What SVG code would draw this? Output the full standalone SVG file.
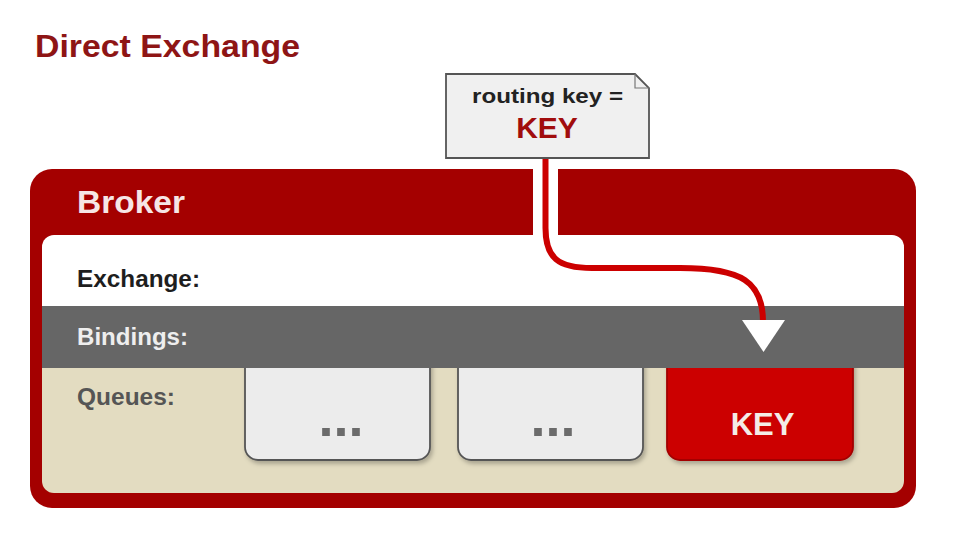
<svg xmlns="http://www.w3.org/2000/svg" width="958" height="548" viewBox="0 0 958 548">
<style>
text{font-family:"Liberation Sans",Arial,sans-serif;font-weight:bold}
.lbl{font-size:23px}
.q{fill:#ececec;stroke:#555;stroke-width:1.8}
.dots{font-size:54px;fill:#6b6b6b;text-anchor:middle}
</style>
<defs>
<filter id="sh" x="-10%" y="-10%" width="130%" height="130%"><feDropShadow dx="2" dy="3" stdDeviation="2" flood-color="#000" flood-opacity="0.25"/></filter>
</defs>
<rect width="958" height="548" fill="#fff"/>
<text x="35" y="57" font-size="32" fill="#8e1515" textLength="265" lengthAdjust="spacingAndGlyphs">Direct Exchange</text>
<g id="broker">
<rect x="30" y="169" width="886" height="339" rx="22" fill="#a40000"/>
<path d="M54,235 H892 A12,12 0 0 1 904,247 V306 H42 V247 A12,12 0 0 1 54,235 Z" fill="#fff"/>
<path d="M42,368 H904 V481 A12,12 0 0 1 892,493 H54 A12,12 0 0 1 42,481 Z" fill="#e3dcc1"/>
<text x="77" y="213" font-size="32" fill="#f6e6e6" textLength="108" lengthAdjust="spacingAndGlyphs">Broker</text>
<text class="lbl" x="77" y="287" fill="#1e1e1e" textLength="123" lengthAdjust="spacingAndGlyphs">Exchange:</text>
<text class="lbl" x="77" y="405" fill="#555" textLength="98" lengthAdjust="spacingAndGlyphs">Queues:</text>
</g>
<g id="queue1">
<rect class="q" x="245" y="340" width="185" height="120" rx="13" filter="url(#sh)"/>
<text class="dots" x="341" y="436">...</text>
</g>
<g id="queue2">
<rect class="q" x="458" y="340" width="185" height="120" rx="13" filter="url(#sh)"/>
<text class="dots" x="553" y="436">...</text>
</g>
<g id="queue3">
<rect x="667" y="340" width="186" height="120" rx="13" fill="#cc0000" stroke="#a30000" stroke-width="1.8" filter="url(#sh)"/>
<text x="762.5" y="435" font-size="31" fill="#f4ece6" text-anchor="middle">KEY</text>
</g>
<g id="bindings">
<rect x="42" y="306" width="862" height="62" fill="#666"/>
<text class="lbl" x="77" y="345" fill="#eeeeee" textLength="111" lengthAdjust="spacingAndGlyphs">Bindings:</text>
</g>
<g id="note">
<path d="M446,74 H635 L649,88 V158 H446 Z" fill="#f0f0f0" stroke="#555" stroke-width="1.8"/>
<path d="M635,74 V88 H649" fill="none" stroke="#777" stroke-width="1.2"/>
<text x="472" y="103" font-size="21" fill="#222" textLength="151" lengthAdjust="spacingAndGlyphs">routing key =</text>
<text x="547" y="138" font-size="30" fill="#a10d0d" text-anchor="middle">KEY</text>
</g>
<g id="connectors">
<path d="M545.5,160 V236" stroke="#fff" stroke-width="25" fill="none"/>
<path d="M545.5,159 V228 C545.5,258 558,268 592,268 H680 C742,268 763,282 763,322" stroke="#cc0000" stroke-width="6" fill="none"/>
<path d="M742,320 H785 L763.5,352 Z" fill="#fff"/>
</g>
</svg>
